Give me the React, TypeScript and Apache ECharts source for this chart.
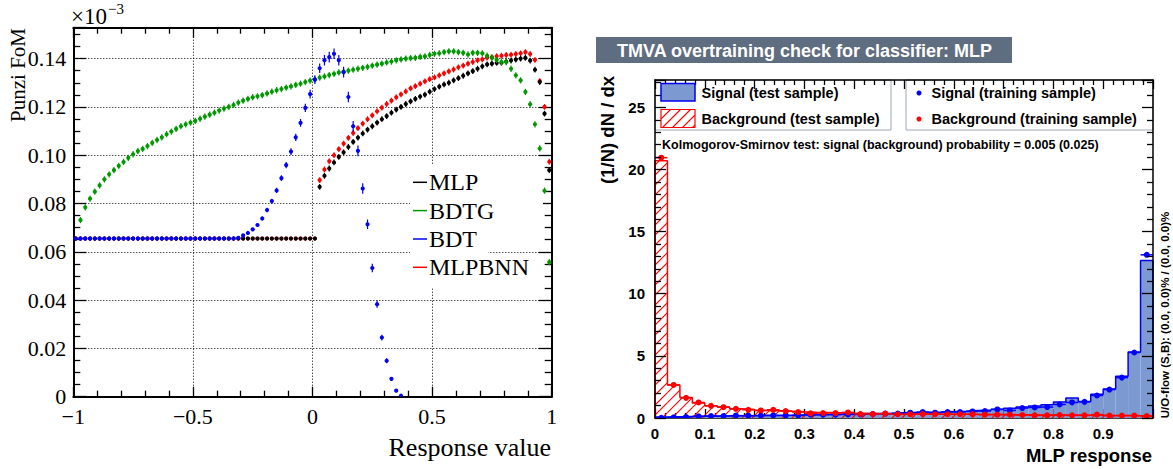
import React, { useEffect, useRef } from "react";
import * as echarts from "echarts";

// ---------------- Left panel: Punzi FoM vs response value ----------------
const L_STEP = 0.02;
const FLAT_START = -0.99;

const MLP_FLAT = [
  0.0655, 0.0655, 0.0655, 0.0655, 0.0655, 0.0655, 0.0655, 0.0655, 0.0655, 0.0655,
  0.0655, 0.0655, 0.0655, 0.0655, 0.0655, 0.0655, 0.0655, 0.0655, 0.0655, 0.0655,
  0.0655, 0.0655, 0.0655, 0.0655, 0.0655, 0.0655, 0.0655, 0.0655, 0.0655, 0.0655,
  0.0655, 0.0655, 0.0655, 0.0655, 0.0655, 0.0655, 0.0655, 0.0655, 0.0655, 0.0655,
  0.0655, 0.0655, 0.0655, 0.0655, 0.0655, 0.0655, 0.0655, 0.0655, 0.0655, 0.0655,
  0.0655,
];
const MLPBNN_FLAT = [
  0.0655, 0.0655, 0.0655, 0.0655, 0.0655, 0.0655, 0.0655, 0.0655, 0.0655, 0.0655,
  0.0655, 0.0655, 0.0655, 0.0655, 0.0655, 0.0655, 0.0655, 0.0655, 0.0655, 0.0655,
  0.0655, 0.0655, 0.0655, 0.0655, 0.0655, 0.0655, 0.0655, 0.0655, 0.0655, 0.0655,
  0.0655, 0.0655, 0.0655, 0.0655, 0.0655, 0.0655, 0.0655, 0.0655, 0.0655, 0.0655,
  0.0655, 0.0655, 0.0655, 0.0655, 0.0655, 0.0655, 0.0655, 0.0655, 0.0655, 0.0655,
  0.0655,
];
const BDT_FLAT = [
  0.0655, 0.0655, 0.0655, 0.0655, 0.0655, 0.0655, 0.0655, 0.0655, 0.0655, 0.0655,
  0.0655, 0.0655, 0.0655, 0.0655, 0.0655, 0.0655, 0.0655, 0.0655, 0.0655, 0.0655,
  0.0655, 0.0655, 0.0655, 0.0655, 0.0655, 0.0655, 0.0655, 0.0655, 0.0655, 0.0655,
  0.0655, 0.0655, 0.0655, 0.0655,
];

const MLP_CURVE_START = 0.03;
const MLP_CURVE = [
  0.0869, 0.0915, 0.0945, 0.0970, 0.0993, 0.1012, 0.1034, 0.1055, 0.1073, 0.1090,
  0.1106, 0.1120, 0.1135, 0.1149, 0.1162, 0.1176, 0.1189, 0.1200, 0.1212, 0.1223,
  0.1233, 0.1243, 0.1251, 0.1263, 0.1274, 0.1284, 0.1293, 0.1300, 0.1310, 0.1319,
  0.1329, 0.1339, 0.1348, 0.1358, 0.1368, 0.1376, 0.1379, 0.1382, 0.1383, 0.1388,
  0.1392, 0.1396, 0.1400, 0.1403, 0.1392, 0.1354, 0.1303, 0.1172, 0.0938,
];
const MLP_ERR = 0.0012;

const MLPBNN_CURVE_START = 0.03;
const MLPBNN_CURVE = [
  0.0897, 0.0941, 0.0975, 0.1000, 0.1025, 0.1048, 0.1072, 0.1092, 0.1112, 0.1131,
  0.1149, 0.1165, 0.1182, 0.1197, 0.1212, 0.1226, 0.1240, 0.1252, 0.1264, 0.1277,
  0.1286, 0.1296, 0.1306, 0.1315, 0.1322, 0.1331, 0.1339, 0.1347, 0.1355, 0.1364,
  0.1371, 0.1379, 0.1386, 0.1393, 0.1397, 0.1404, 0.1406, 0.1410, 0.1412, 0.1415,
  0.1416, 0.1419, 0.1422, 0.1427, 0.1419, 0.1395, 0.1307, 0.1200, 0.0973,
];
const MLPBNN_ERR = 0.0012;

const BDTG_START = -0.97;
const BDTG = [
  0.0731, 0.0784, 0.0820, 0.0849, 0.0875, 0.0900, 0.0921, 0.0938, 0.0956, 0.0972,
  0.0989, 0.1004, 0.1017, 0.1026, 0.1038, 0.1051, 0.1063, 0.1074, 0.1087, 0.1098,
  0.1109, 0.1120, 0.1128, 0.1135, 0.1142, 0.1151, 0.1160, 0.1168, 0.1176, 0.1185,
  0.1193, 0.1200, 0.1208, 0.1218, 0.1226, 0.1233, 0.1240, 0.1244, 0.1249, 0.1256,
  0.1263, 0.1269, 0.1274, 0.1280, 0.1285, 0.1291, 0.1296, 0.1303, 0.1309, 0.1314,
  0.1321, 0.1326, 0.1332, 0.1337, 0.1343, 0.1346, 0.1350, 0.1354, 0.1358, 0.1362,
  0.1366, 0.1371, 0.1375, 0.1379, 0.1384, 0.1388, 0.1393, 0.1397, 0.1400, 0.1402,
  0.1403, 0.1407, 0.1409, 0.1415, 0.1420, 0.1422, 0.1427, 0.1430, 0.1430, 0.1427,
  0.1424, 0.1417, 0.1424, 0.1424, 0.1422, 0.1412, 0.1403, 0.1395, 0.1386, 0.1386,
  0.1358, 0.1331, 0.1310, 0.1262, 0.1211, 0.1128, 0.1028, 0.0853, 0.0557,
];
const BDTG_ERR = 0.0013;

const BDT_CURVE_START = -0.31;
const BDT_CURVE = [
  0.0658, 0.0668, 0.0678, 0.0693, 0.0711, 0.0738, 0.0773, 0.0810, 0.0854, 0.0905,
  0.0959, 0.1015, 0.1074, 0.1134, 0.1196, 0.1253, 0.1313, 0.1360, 0.1393, 0.1406,
  0.1420, 0.1393, 0.1344, 0.1241, 0.1120, 0.1018, 0.0862, 0.0714, 0.0533, 0.0383,
  0.0245, 0.0149, 0.0074, 0.0025, 0.0004,
];
const BDT_CURVE_ERR = [
  0.0003, 0.0004, 0.0005, 0.0006, 0.0007, 0.0008, 0.0009, 0.0010, 0.0011, 0.0012,
  0.0013, 0.0014, 0.0015, 0.0016, 0.0017, 0.0018, 0.0018, 0.0020, 0.0022, 0.0022,
  0.0022, 0.0022, 0.0022, 0.0022, 0.0022, 0.0022, 0.0022, 0.0020, 0.0018, 0.0015,
  0.0012, 0.0010, 0.0008, 0.0006, 0.0004,
];

const LEFT_LEGEND = ["MLP", "BDTG", "BDT", "MLPBNN"];
const LEFT_X_TICKS = [-1, -0.5, 0, 0.5, 1];

// ---------------- Right panel: TMVA overtraining check ----------------
const BIN_W = 0.025;
const SIG_TEST = [
  0.08, 0.10, 0.12, 0.14, 0.15, 0.17, 0.18, 0.19, 0.20, 0.21,
  0.22, 0.25, 0.27, 0.28, 0.30, 0.31, 0.33, 0.36, 0.38, 0.42,
  0.45, 0.47, 0.48, 0.52, 0.55, 0.60, 0.64, 0.70, 0.78, 0.88,
  0.96, 1.07, 1.28, 1.60, 1.33, 1.92, 2.34, 3.35, 5.32, 12.67,
];
const SIG_TRAIN = [
  0.02, 0.05, 0.08, 0.13, 0.16, 0.16, 0.19, 0.19, 0.20, 0.21,
  0.21, 0.21, 0.27, 0.27, 0.27, 0.29, 0.29, 0.32, 0.35, 0.35,
  0.43, 0.48, 0.43, 0.48, 0.48, 0.53, 0.56, 0.69, 0.61, 0.80,
  0.85, 0.88, 1.09, 1.25, 1.30, 1.81, 2.29, 3.25, 5.27, 13.13,
];
const BKG_TEST = [
  20.70, 2.66, 1.65, 1.20, 0.98, 0.88, 0.74, 0.69, 0.61, 0.58,
  0.55, 0.50, 0.47, 0.45, 0.43, 0.40, 0.38, 0.36, 0.35, 0.33,
  0.32, 0.32, 0.31, 0.30, 0.30, 0.29, 0.28, 0.28, 0.27, 0.26,
  0.25, 0.25, 0.24, 0.24, 0.23, 0.22, 0.21, 0.20, 0.18, 0.15,
];
const BKG_TRAIN = [
  20.95, 2.66, 1.62, 1.25, 0.98, 0.87, 0.74, 0.66, 0.61, 0.66,
  0.56, 0.48, 0.37, 0.40, 0.40, 0.45, 0.32, 0.32, 0.35, 0.30,
  0.30, 0.32, 0.30, 0.30, 0.30, 0.30, 0.27, 0.27, 0.27, 0.24,
  0.21, 0.21, 0.24, 0.21, 0.21, 0.27, 0.19, 0.19, 0.19, 0.16,
];
const RIGHT_LEGEND = [
  "Signal (test sample)",
  "Background (test sample)",
  "Signal (training sample)",
  "Background (training sample)",
];
const TITLE = "TMVA overtraining check for classifier: MLP";
const KS_TEXT = "Kolmogorov-Smirnov test: signal (background) probability = 0.005 (0.025)";
const UO_TEXT = "U/O-flow (S,B): (0.0, 0.0)% / (0.0, 0.0)%";

// ---------------- helpers ----------------
const SERIF = "Liberation Serif";
const SANS = "Liberation Sans";
const C_BLACK = "#000000";
const C_GREEN = "#009a00";
const C_BLUE = "#0000ff";
const C_RED = "#ff0000";
const SIG_FILL = "#7d99d1";
const SIG_LINE = "#0000ee";

const r4 = (v: number) => Math.round(v * 10000) / 10000;

function pts(start: number, vals: number[], err: number | number[]) {
  return vals.map((v, i) => [
    r4(start + i * L_STEP),
    v,
    Array.isArray(err) ? err[i] : err,
  ]);
}

function hatch(x0: number, x1: number, yTop: number, yBot: number, s: number) {
  const out: number[][][] = [];
  const cStart = Math.ceil((x0 + yTop) / s) * s;
  for (let c = cStart; c <= x1 + yBot; c += s) {
    const xa = Math.max(x0, c - yBot);
    const xb = Math.min(x1, c - yTop);
    if (xb > xa) out.push([[xa, c - xa], [xb, c - xb]]);
  }
  return out;
}

function pointSeries(name: string, data: any[], color: string) {
  return {
    type: "custom",
    name,
    xAxisIndex: 0,
    yAxisIndex: 0,
    clip: true,
    data,
    encode: { x: 0, y: 1 },
    renderItem: (_p: any, api: any) => {
      const x = api.value(0);
      const y = api.value(1);
      const e = api.value(2);
      const c = api.coord([x, y]);
      const children: any[] = [];
      if (e > 0) {
        const t = api.coord([x, y + e]);
        const b = api.coord([x, y - e]);
        children.push({
          type: "line",
          shape: { x1: c[0], y1: t[1], x2: c[0], y2: b[1] },
          style: { stroke: color, lineWidth: 1.2 },
        });
      }
      children.push({
        type: "circle",
        shape: { cx: c[0], cy: c[1], r: 2.1 },
        style: { fill: color },
      });
      return { type: "group", children };
    },
  };
}

function binData(vals: number[]) {
  return vals.map((v, i) => [r4(i * BIN_W), r4((i + 1) * BIN_W), v]);
}

function stepData(vals: number[]) {
  const d: number[][] = [[0, 0]];
  vals.forEach((v, i) => d.push([r4(i * BIN_W), v]));
  d.push([1, vals[vals.length - 1]]);
  d.push([1, 0]);
  return d;
}

function trainSeries(name: string, vals: number[], color: string) {
  return {
    type: "custom",
    name,
    xAxisIndex: 2,
    yAxisIndex: 2,
    clip: true,
    data: binData(vals),
    renderItem: (_p: any, api: any) => {
      const x0 = api.value(0);
      const x1 = api.value(1);
      const v = api.value(2);
      const l = api.coord([x0, v]);
      const r = api.coord([x1, v]);
      const c = api.coord([(x0 + x1) / 2, v]);
      return {
        type: "group",
        children: [
          { type: "line", shape: { x1: l[0], y1: l[1], x2: r[0], y2: r[1] }, style: { stroke: color, lineWidth: 1.5 } },
          { type: "circle", shape: { cx: c[0], cy: c[1], r: 3 }, style: { fill: color } },
        ],
      };
    },
  };
}

function axisBase(grid: number, pos: string, lw: number, major: number, minor: number, split: number, z = 0) {
  return {
    gridIndex: grid,
    type: "value",
    position: pos,
    z,
    axisLine: { show: true, onZero: false, lineStyle: { color: "#000", width: lw } },
    axisTick: { show: true, inside: true, length: major, lineStyle: { color: "#000", width: 1.3 } },
    minorTick: { show: true, splitNumber: split, length: minor, lineStyle: { color: "#000", width: 1.3 } },
    splitLine: { show: false },
  };
}

const dotted = { show: true, lineStyle: { color: "#000", type: [1, 2], width: 1 } };

export default function App() {
  const ref = useRef<HTMLDivElement>(null);
  useEffect(() => {
    const chart = echarts.init(ref.current!, null, { renderer: "svg" });

    const LG = { left: 73.3, top: 27.7, width: 478.4, height: 369 };
    const RG = { left: 655, top: 80, width: 498, height: 338 };

    const xL = {
      ...axisBase(0, "bottom", 2, 10, 6, 5),
      min: -1, max: 1, interval: 0.5,
      axisLabel: {
        margin: 9, fontFamily: SERIF, fontSize: 22, color: "#000",
        formatter: (v: number) => (LEFT_X_TICKS.includes(v) ? String(v).replace("-", "\u2212") : ""),
      },
      splitLine: dotted,
    };
    const xLt = { ...axisBase(0, "top", 2, 10, 6, 5), min: -1, max: 1, interval: 0.5, axisLabel: { show: false } };
    const yL = {
      ...axisBase(0, "left", 2, 13, 7, 4),
      min: 0, max: 0.1528, interval: 0.02,
      axisLabel: {
        margin: 7, fontFamily: SERIF, fontSize: 22, color: "#000", showMaxLabel: false,
        formatter: (v: number) => (v === 0 ? "0" : v.toFixed(2)),
      },
      splitLine: dotted,
    };
    const yLr = { ...axisBase(0, "right", 2, 13, 7, 4), min: 0, max: 0.1528, interval: 0.02, axisLabel: { show: false } };

    const xR = {
      ...axisBase(1, "bottom", 1.5, 9, 5, 5),
      min: 0, max: 1, interval: 0.1,
      axisLabel: {
        margin: 8, fontFamily: SANS, fontWeight: "bold", fontSize: 15, color: "#000", showMaxLabel: false,
        formatter: (v: number) => (v === 0 ? "0" : v.toFixed(1)),
      },
    };
    const xRt = { ...axisBase(1, "top", 1.5, 9, 5, 5, 5), min: 0, max: 1, interval: 0.1, axisLabel: { show: false } };
    const yR = {
      ...axisBase(1, "left", 1.5, 11, 6, 5, 5),
      min: 0, max: 27.2, interval: 5,
      axisLabel: {
        margin: 10, fontFamily: SANS, fontWeight: "bold", fontSize: 15, color: "#000", showMaxLabel: false,
      },
    };
    const yRr = { ...axisBase(1, "right", 1.5, 11, 6, 5, 5), min: 0, max: 27.2, interval: 5, axisLabel: { show: false } };

    const leftSeries = [
      pointSeries("MLPBNN flat", pts(FLAT_START, MLPBNN_FLAT, 0), C_RED),
      pointSeries("MLPBNN", pts(MLPBNN_CURVE_START, MLPBNN_CURVE, MLPBNN_ERR), C_RED),
      pointSeries("MLP flat", pts(FLAT_START, MLP_FLAT, 0), C_BLACK),
      pointSeries("MLP", pts(MLP_CURVE_START, MLP_CURVE, MLP_ERR), C_BLACK),
      pointSeries("BDTG", pts(BDTG_START, BDTG, BDTG_ERR), C_GREEN),
      pointSeries("BDT flat", pts(FLAT_START, BDT_FLAT, 0), C_BLUE),
      pointSeries("BDT", pts(BDT_CURVE_START, BDT_CURVE, BDT_CURVE_ERR), C_BLUE),
    ];

    const rightSeries: any[] = [
      {
        type: "custom", name: "sig fill", xAxisIndex: 2, yAxisIndex: 2, clip: true,
        data: binData(SIG_TEST),
        renderItem: (_p: any, api: any) => {
          const a = api.coord([api.value(0), api.value(2)]);
          const b = api.coord([api.value(1), 0]);
          return { type: "rect", shape: { x: a[0], y: a[1], width: b[0] - a[0], height: b[1] - a[1] }, style: { fill: SIG_FILL } };
        },
      },
      {
        type: "line", name: "sig outline", xAxisIndex: 2, yAxisIndex: 2, step: "end", symbol: "none",
        data: stepData(SIG_TEST), lineStyle: { color: SIG_LINE, width: 1.5 }, itemStyle: { color: SIG_LINE }, z: 3,
      },
      {
        type: "custom", name: "bkg hatch", xAxisIndex: 2, yAxisIndex: 2, clip: true,
        itemStyle: { color: C_RED },
        data: binData(BKG_TEST),
        renderItem: (_p: any, api: any) => {
          const a = api.coord([api.value(0), api.value(2)]);
          const b = api.coord([api.value(1), 0]);
          return {
            type: "group",
            children: hatch(a[0], b[0], a[1], b[1], 10).map((p) => ({
              type: "polyline", shape: { points: p }, style: { stroke: C_RED, fill: null, lineWidth: 1.1 },
            })),
          };
        },
      },
      {
        type: "line", name: "bkg outline", xAxisIndex: 2, yAxisIndex: 2, step: "end", symbol: "none",
        data: stepData(BKG_TEST), lineStyle: { color: C_RED, width: 1.5 }, itemStyle: { color: C_RED }, z: 3,
      },
      { ...trainSeries("sig train", SIG_TRAIN, C_BLUE), z: 4 },
      { ...trainSeries("bkg train", BKG_TRAIN, C_RED), z: 4 },
    ];

    const legendY = [182.3, 210.6, 239, 267.3];
    const legendColors = [C_BLACK, C_GREEN, C_BLUE, C_RED];

    const graphic: any[] = [
      // left legend background (covers grid lines)
      { type: "rect", z: 1, shape: { x: 410, y: 165, width: 78, height: 122 }, style: { fill: "#fff" } },
      { type: "rect", z: 1, shape: { x: 488, y: 165, width: 55, height: 75 }, style: { fill: "#fff" } },
      ...LEFT_LEGEND.flatMap((name, i) => [
        { type: "line", z: 10, shape: { x1: 413, y1: legendY[i], x2: 427, y2: legendY[i] }, style: { stroke: legendColors[i], lineWidth: 1.5 } },
        { type: "text", z: 10, x: 429, y: legendY[i], style: { text: name, font: `24px "${SERIF}"`, fill: "#000", verticalAlign: "middle", align: "left" } },
      ]),
      // left axis titles
      { type: "text", z: 10, x: 18, y: 28, rotation: Math.PI / 2, style: { text: "Punzi FoM", font: `21px "${SERIF}"`, fill: "#000", align: "right", verticalAlign: "middle" } },
      { type: "text", z: 10, x: 551, y: 447, style: { text: "Response value", font: `26px "${SERIF}"`, fill: "#000", align: "right", verticalAlign: "middle" } },
      { type: "text", z: 10, x: 71, y: 16, style: { text: "\u00d710", font: `23px "${SERIF}"`, fill: "#000", align: "left", verticalAlign: "middle" } },
      { type: "text", z: 10, x: 108, y: 9, style: { text: "\u22123", font: `15px "${SERIF}"`, fill: "#000", align: "left", verticalAlign: "middle" } },

      // right title box
      { type: "rect", z: 10, shape: { x: 596, y: 37, width: 416, height: 26 }, style: { fill: "#5f6d80" } },
      { type: "text", z: 11, x: 617, y: 50.5, style: { text: TITLE, font: `bold 18px "${SANS}"`, fill: "#fff", align: "left", verticalAlign: "middle" } },

      // right legend boxes
      { type: "rect", z: 1, shape: { x: 655, y: 80, width: 236, height: 50 }, style: { fill: "#fff", stroke: "#9ea7b8", lineWidth: 1 } },
      { type: "rect", z: 1, shape: { x: 906, y: 80, width: 247, height: 50 }, style: { fill: "#fff", stroke: "#9ea7b8", lineWidth: 1 } },
      { type: "rect", z: 6, shape: { x: 661, y: 83.5, width: 34, height: 17.5 }, style: { fill: SIG_FILL, stroke: SIG_LINE, lineWidth: 1.5 } },
      ...hatch(661, 695, 109.5, 127.5, 10).map((p) => ({ type: "polyline", z: 6, shape: { points: p }, style: { stroke: C_RED, fill: null, lineWidth: 1.1 } })),
      { type: "rect", z: 6, shape: { x: 661, y: 109.5, width: 34, height: 18 }, style: { fill: "none", stroke: C_RED, lineWidth: 1.2 } },
      { type: "text", z: 6, x: 701.5, y: 93, style: { text: RIGHT_LEGEND[0], font: `bold 14.5px "${SANS}"`, fill: "#000", verticalAlign: "middle" } },
      { type: "text", z: 6, x: 701.5, y: 119, style: { text: RIGHT_LEGEND[1], font: `bold 14.5px "${SANS}"`, fill: "#000", verticalAlign: "middle" } },
      { type: "circle", z: 6, shape: { cx: 919, cy: 93, r: 2.5 }, style: { fill: C_BLUE } },
      { type: "circle", z: 6, shape: { cx: 919, cy: 119, r: 2.5 }, style: { fill: C_RED } },
      { type: "text", z: 6, x: 931.5, y: 93, style: { text: RIGHT_LEGEND[2], font: `bold 14.5px "${SANS}"`, fill: "#000", verticalAlign: "middle" } },
      { type: "text", z: 6, x: 931.5, y: 119, style: { text: RIGHT_LEGEND[3], font: `bold 14.5px "${SANS}"`, fill: "#000", verticalAlign: "middle" } },
      { type: "text", z: 6, x: 662, y: 145, style: { text: KS_TEXT, font: `bold 12.5px "${SANS}"`, fill: "#000", verticalAlign: "middle" } },

      // right axis titles
      { type: "text", z: 10, x: 607, y: 76, rotation: Math.PI / 2, style: { text: "(1/N) dN / dx", font: `bold 18.5px "${SANS}"`, fill: "#000", align: "right", verticalAlign: "middle" } },
      { type: "text", z: 10, x: 1152, y: 455, style: { text: "MLP response", font: `bold 18.5px "${SANS}"`, fill: "#000", align: "right", verticalAlign: "middle" } },
      { type: "text", z: 10, x: 1165, y: 315, rotation: Math.PI / 2, style: { text: UO_TEXT, font: `bold 11.5px "${SANS}"`, fill: "#000", align: "center", verticalAlign: "middle" } },
    ];

    chart.setOption({
      animation: false,
      backgroundColor: "#fff",
      grid: [
        { ...LG, containLabel: false },
        { ...RG, containLabel: false },
      ],
      xAxis: [xL, xLt, xR, xRt],
      yAxis: [yL, yLr, yR, yRr],
      series: [...leftSeries, ...rightSeries],
      graphic,
    });
    return () => chart.dispose();
  }, []);

  return (
    <div
      ref={ref}
      style={{ position: "absolute", left: 0, top: 0, width: 1173, height: 469, background: "#fff" }}
    />
  );
}
